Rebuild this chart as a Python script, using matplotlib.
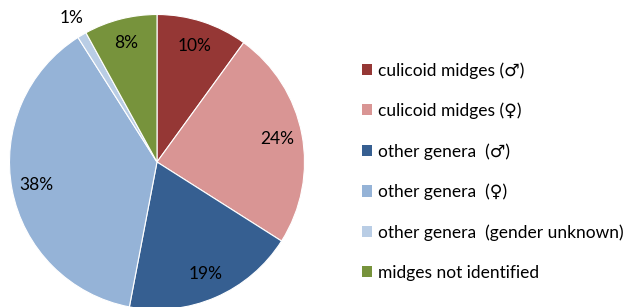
import matplotlib.pyplot as plt
from matplotlib.patches import Patch

plt.rcParams['font.family'] = ['Lato', 'DejaVu Sans']

labels = ['culicoid midges (♂)', 'culicoid midges (♀)', 'other genera  (♂)',
          'other genera  (♀)', 'other genera  (gender unknown)', 'midges not identified']
values = [10, 24, 19, 38, 1, 8]
colors = ['#953735', '#D99594', '#365F91', '#95B3D7', '#B9CDE5', '#77933C']

fig = plt.figure(figsize=(6.29, 3.07), dpi=100)
ax = fig.add_axes([(157 - 147.5) / 629, (307 - 162 - 147.5) / 307, 295 / 629, 295 / 307])

wedges, texts = ax.pie(values, colors=colors, startangle=90, counterclock=False,
                       radius=1, labels=[f'{v}%' for v in values], labeldistance=0.83,
                       wedgeprops=dict(edgecolor='white', linewidth=0.8),
                       textprops=dict(fontsize=12.5, color='black'))
for t in texts:
    t.set_ha('center')
    t.set_va('center')
# small slice label sits outside the pie
x, y = texts[4].get_position()
texts[4].set_position((x / 0.83 * 1.135, y / 0.83 * 1.135))
ax.set_xlim(-1, 1)
ax.set_ylim(-1, 1)
ax.axis('off')
for w in wedges:
    w.set_clip_on(False)

handles = [Patch(facecolor=c, edgecolor='none') for c in colors]
fig.legend(handles, labels, loc='upper left', bbox_to_anchor=(362 / 629, 1 - 62 / 307),
           frameon=False, fontsize=12.5, handlelength=0.6, handleheight=0.6,
           handletextpad=0.35, labelspacing=1.38, borderaxespad=0, borderpad=0)

fig.savefig('out.png', dpi=100)
